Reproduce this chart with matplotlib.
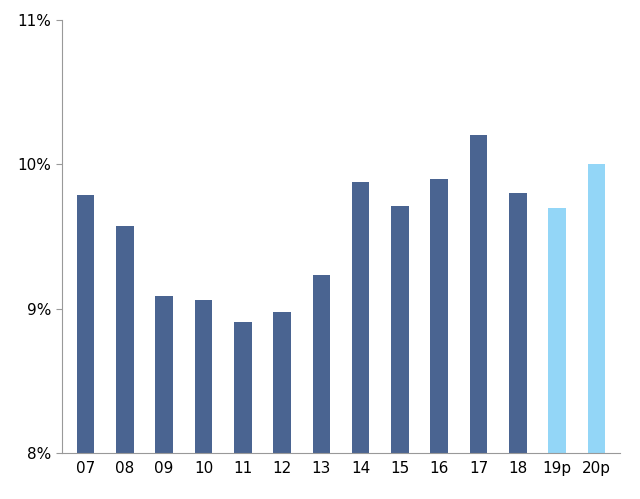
import matplotlib.pyplot as plt

years = ['07', '08', '09', '10', '11', '12', '13', '14', '15', '16', '17', '18', '19p', '20p']
values = [9.79, 9.57, 9.09, 9.06, 8.91, 8.98, 9.23, 9.88, 9.71, 9.90, 10.20, 9.80, 9.70, 10.00]
colors = ['#4a6491'] * 12 + ['#93d6f7'] * 2

fig = plt.figure(figsize=(6.4, 4.99), dpi=100)
ax = fig.add_axes([62/640, 46/499, 558/640, 433/499])
ax.bar(range(len(years)), [v - 8 for v in values], bottom=8, color=colors, width=0.45)

ax.set_ylim(8, 11)
ax.set_xlim(-0.6, len(years) - 0.4)
ax.set_yticks([8, 9, 10, 11])
ax.set_yticklabels(['8%', '9%', '10%', '11%'], fontsize=11)
ax.set_xticks(range(len(years)))
ax.set_xticklabels(years, fontsize=11)
ax.tick_params(axis='x', length=0, pad=6)
ax.tick_params(axis='y', length=4, color='#999999', direction='out')
for s in ['top', 'right']:
    ax.spines[s].set_visible(False)
for s in ['left', 'bottom']:
    ax.spines[s].set_color('#999999')

plt.savefig('out.png', dpi=100)
plt.close()
